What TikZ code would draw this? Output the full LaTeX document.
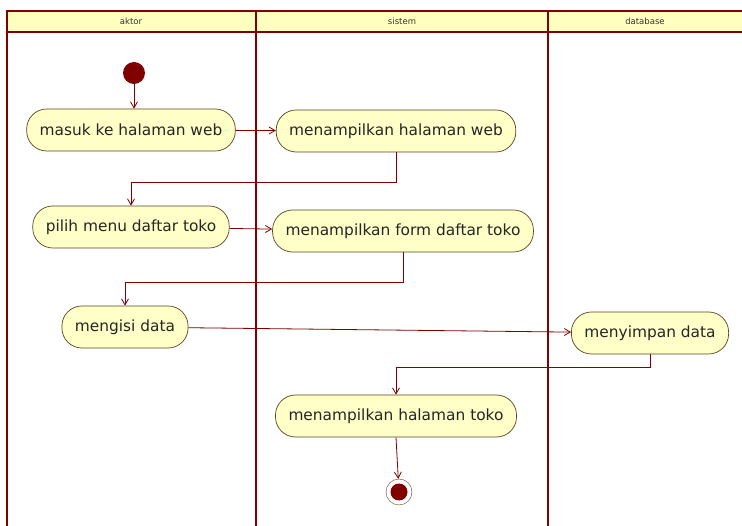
\documentclass[tikz,border=0pt]{standalone}
\usepackage{fontspec}
\setmainfont{DejaVu Sans}
\usetikzlibrary{arrows.meta,positioning,calc}
\definecolor{lanered}{HTML}{800000}
\definecolor{actfill}{HTML}{FFFFC8}
\definecolor{actline}{HTML}{5A4620}
\definecolor{headfill}{HTML}{FFFFC0}

\begin{document}
\begin{tikzpicture}[x=1pt,y=-1pt,>={Straight Barb[angle=60:7pt]},
  act/.style={draw=actline,line width=0.7pt,fill=actfill,rounded corners=20pt,minimum height=42pt,inner xsep=13pt,text=black!85,font=\fontsize{15.4}{18}\selectfont},
  flow/.style={->,draw=lanered,line width=0.8pt},
  lane/.style={draw=lanered,line width=2.4pt},
  head/.style={text=black!80,font=\fontsize{8.5}{10}\selectfont}]
\clip (0,0) rectangle (742,526);
\fill[white] (0,0) rectangle (742,526);
% swimlanes
\fill[headfill] (7,11) rectangle (760,32);
\draw[lane] (760,11) -- (7,11) -- (7,540);
\draw[lane] (7,32) -- (760,32);
\draw[lane] (256,11) -- (256,540);
\draw[lane] (548,11) -- (548,540);
\node[head] (laneA) at (131,21) {aktor};
\node[head] (laneB) at (402,21) {sistem};
\node[head] (laneC) at (645,21) {database};
% activities
\node[circle,fill=lanered,minimum size=22pt,inner sep=0pt] (start) at (134,73) {};
\node[act] (masuk) at (131,130) {masuk ke halaman web};
\node[act] (web) at (396,131) {menampilkan halaman web};
\node[act] (pilih) at (131,227) {pilih menu daftar toko};
\node[act] (form) at (403,231) {menampilkan form daftar toko};
\node[act] (isi) at (125,327) {mengisi data};
\node[act] (simpan) at (650,333) {menyimpan data};
\node[act] (toko) at (396,416) {menampilkan halaman toko};
\node[circle,draw=actline,fill=white,minimum size=26pt,inner sep=0pt] (end) at (399,492) {};
\node[circle,fill=lanered,minimum size=17pt,inner sep=0pt] at (end) {};
% flows
\draw[flow] (start) -- (start |- masuk.north);
\draw[flow] (masuk) -- (web);
\draw[flow] (web.south) -- ++(0,30) -| (pilih.north);
\draw[flow] (pilih) -- (form);
\draw[flow] (form.south) -- ++(0,30) -| (isi.north);
\draw[flow] (isi) -- (simpan);
\draw[flow] (simpan.south) -- ++(0,13) -| (toko.north);
\draw[flow] (toko.south) -- (end);
\end{tikzpicture}
\end{document}
